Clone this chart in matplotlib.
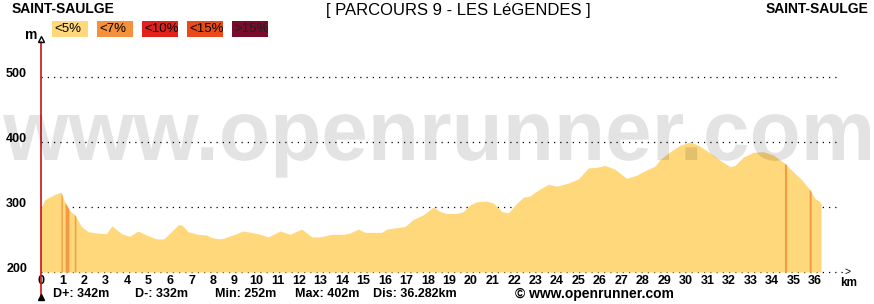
import numpy as np
import matplotlib
matplotlib.use('Agg')
import matplotlib.pyplot as plt
from matplotlib.textpath import TextPath
from matplotlib.patches import PathPatch, Rectangle
from matplotlib.font_manager import FontProperties
from matplotlib.transforms import Affine2D, ScaledTranslation

plt.rcParams['font.family'] = ['Liberation Sans', 'DejaVu Sans']

# profil altimétrique (km, m)
km = [0, 0.17, 0.56, 0.92, 1.1, 1.33, 1.57, 1.88, 2.19, 2.57, 3.04, 3.3, 3.74, 4.12,
      4.51, 4.9, 5.36, 5.72, 6.06, 6.4, 6.56, 6.84, 7.3, 7.69, 7.92, 8.31, 8.5, 9.0,
      9.4, 9.78, 10.19, 10.57, 11.12, 11.58, 12.13, 12.59, 12.98, 13.52, 14.07, 14.37,
      14.76, 15.07, 15.85, 16.08, 16.93, 17.32, 17.78, 18.25, 18.56, 18.87, 19.33,
      19.64, 19.95, 20.26, 20.73, 21.04, 21.43, 21.74, 22.05, 22.43, 22.74, 23.13,
      23.6, 23.98, 24.45, 24.99, 25.45, 25.84, 26.23, 26.7, 27.24, 27.71, 28.17,
      28.56, 28.79, 29.26, 29.72, 30.19, 30.57, 31.04, 31.58, 32.05, 32.28, 32.67,
      33.13, 33.6, 34.06, 34.6, 34.99, 35.38, 35.77, 36.0, 36.23, 36.282]
alt = [298, 311, 318, 323, 308, 295, 288, 270, 262, 260, 259, 271, 259, 255,
       263, 257, 251, 251, 262, 273, 272, 262, 258, 257, 253, 251, 252, 258,
       263, 261, 258, 254, 263, 258, 266, 254, 254, 258, 258, 260,
       266, 261, 261, 266, 270, 281, 288, 300, 293, 290, 290,
       293, 303, 308, 309, 306, 293, 291, 303, 315, 317, 326,
       335, 332, 336, 343, 360, 361, 364, 358, 344, 349, 357,
       363, 373, 385, 395, 400, 395, 385, 372, 362, 364, 377,
       384, 385, 380, 367, 354, 342, 326, 313, 308, 305]

# tronçons à forte pente (<7%)
steep_start = [0.93, 1.12, 1.55, 34.58, 35.73]
steep_end = [0.99, 1.30, 1.62, 34.68, 35.82]

legend_labels = ['<5%', '<7%', '<10%', '<15%', '>15%']
legend_colors = ['#FED87A', '#F5913D', '#E2201C', '#E84A1A', '#7A0B2C']

stats = ['D+: 342m', 'D-: 332m', 'Min: 252m', 'Max: 402m', 'Dis: 36.282km']
stats_x = [53, 135, 215, 295, 373]

title = '[ PARCOURS 9 - LES LéGENDES ]'
start_name = 'SAINT-SAULGE'
end_name = 'SAINT-SAULGE'

W, H = 874, 304
fill_col = '#FED87A'
bar_col = '#F39A45'


def fx(x):
    return x / W


def fy(y):
    return 1 - y / H


fig = plt.figure(figsize=(W / 100, H / 100), dpi=100)
ax = fig.add_axes([fx(41), fy(272), (845 - 41) / W, 230 / H])
ax.set_xlim(0, (845 - 41) / 21.5)
ax.set_ylim(200, 200 + 230 / 0.65)
for s in ax.spines.values():
    s.set_visible(False)

# lignes pointillées
for lev in [200, 300, 400, 500]:
    ax.plot([0, 37.2 if lev > 200 else 37.4], [lev, lev], color='black', lw=0.9,
            ls=(0, (1, 4)), zorder=1, clip_on=False)

ax.fill_between(km, 200, alt, color=fill_col, lw=0, zorder=2)
for a, b in zip(steep_start, steep_end):
    xs = [a, b]
    ax.fill_between(xs, 200, np.interp(xs, km, alt), color=bar_col, lw=0, zorder=3)

# axe vertical rouge
ax.plot([0, 0], [-0.105, 1], color='#D01010', lw=1.2, transform=ax.get_xaxis_transform(),
        clip_on=False, zorder=5)
ax.plot([0], [-0.11], marker='^', color='black', ms=5, transform=ax.get_xaxis_transform(),
        clip_on=False, zorder=6)
ax.plot([0], [1.015], marker='^', mfc='none', mec='black', ms=4, mew=1,
        transform=ax.get_xaxis_transform(), clip_on=False, zorder=6)

ax.set_xticks(range(37))
ax.set_xticklabels([str(i) for i in range(37)], fontsize=9, fontweight='bold')
ax.set_yticks([200, 300, 400, 500])
ax.set_yticklabels(['200', '300', '400', '500'], fontsize=9, fontweight='bold')
ax.tick_params(axis='x', length=0, pad=2)
ax.tick_params(axis='y', length=0, pad=10)
up = ScaledTranslation(0, 3 / 72, fig.dpi_scale_trans)
for lab in ax.get_yticklabels():
    lab.set_transform(lab.get_transform() + up)

# textes
fig.text(fx(12), fy(9), start_name, fontsize=10, fontweight='bold', va='center', ha='left')
fig.text(fx(868), fy(9), end_name, fontsize=10, fontweight='bold', va='center', ha='right')
fig.text(fx(458), fy(10), title, fontsize=12, va='center', ha='center')
fig.text(fx(31), fy(35), 'm', fontsize=10, fontweight='bold', va='center', ha='center')
fig.text(fx(849), fy(283), 'km', fontsize=8.5, fontweight='bold', va='center', ha='center')
fig.text(fx(848), fy(271.5), '>', fontsize=7.5, va='center', ha='center')

x0 = 52
for lab, col in zip(legend_labels, legend_colors):
    fig.add_artist(Rectangle((fx(x0), fy(37)), 36 / W, 16 / H, color=col, lw=0,
                             transform=fig.transFigure))
    fig.text(fx(x0 + 2), fy(29.5), lab, fontsize=9.5, va='center', ha='left',
             color='#000000' if col != '#7A0B2C' else '#202020')
    x0 += 45

for s, x in zip(stats, stats_x):
    fig.text(fx(x), fy(294), s, fontsize=9, fontweight='bold', va='center', ha='left')
fig.text(fx(515), fy(294), '© www.openrunner.com', fontsize=10, fontweight='bold',
         va='center', ha='left')

# filigrane
tp = TextPath((0, 0), 'www.openrunner.com', size=1,
              prop=FontProperties(family='Liberation Sans', weight='bold'))
ext = tp.get_extents()
sx = (870 - 3) / (ext.x1 - ext.x0)
sy = (160 - 114) / ext.y1
tr = Affine2D().translate(-ext.x0, 0).scale(sx / W, sy / H).translate(fx(3), fy(160))
fig.add_artist(PathPatch(tr.transform_path(tp), facecolor='black', alpha=0.11, lw=0,
                         transform=fig.transFigure, zorder=10))

fig.savefig('out.png', dpi=100)
